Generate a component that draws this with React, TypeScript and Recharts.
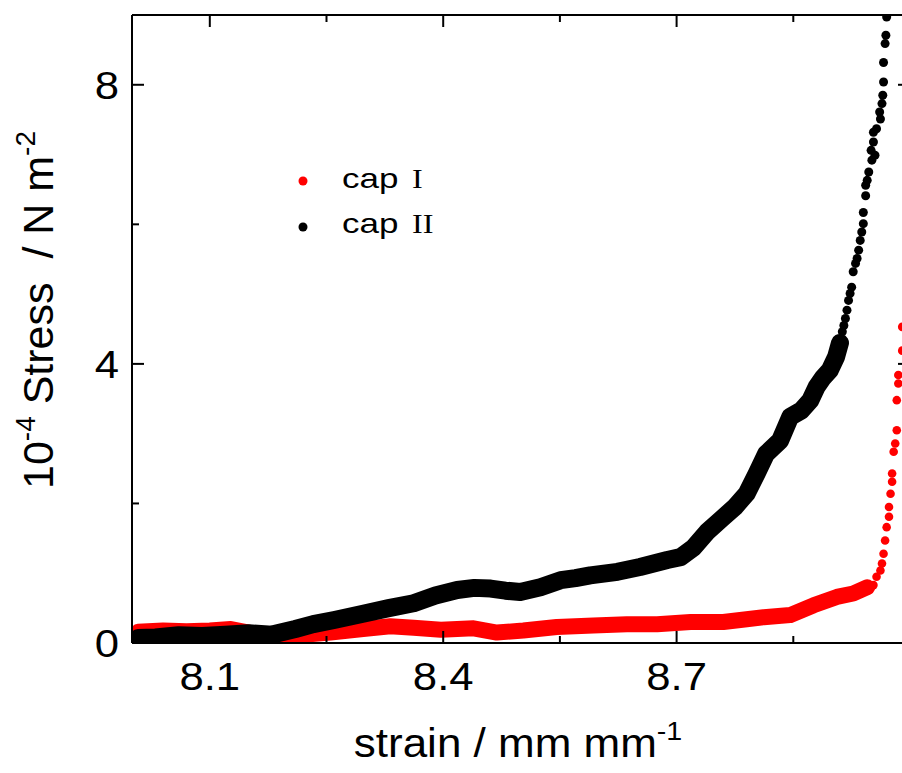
import React from "react";
import {
  ComposedChart,
  Line,
  Scatter,
  XAxis,
  YAxis,
} from "recharts";

// strain ticks (major get a label) and stress ticks
const xTicks = [8.1, 8.25, 8.4, 8.55, 8.7, 8.85];
const xMajor = [8.1, 8.4, 8.7];
const yTicks = [0, 2, 4, 6, 8];
const yMajor = [0, 4, 8];

// cap I (red) - dense band part [strain, stress]
const capIBand: [number, number][] = [
  [8.008, 0.16], [8.04, 0.18], [8.07, 0.17], [8.1, 0.18], [8.127, 0.2],
  [8.15, 0.15], [8.165, 0.06], [8.19, 0.08], [8.212, 0.11], [8.255, 0.15],
  [8.297, 0.2], [8.332, 0.24], [8.362, 0.22], [8.397, 0.19], [8.439, 0.21],
  [8.469, 0.15], [8.503, 0.18], [8.546, 0.23], [8.593, 0.25], [8.636, 0.27],
  [8.675, 0.27], [8.718, 0.3], [8.76, 0.3], [8.79, 0.34], [8.812, 0.37],
  [8.846, 0.4], [8.876, 0.54], [8.906, 0.66], [8.927, 0.71], [8.945, 0.8],
];

// cap I (red) - steep end, single points
const capITail: [number, number][] = [
  [8.947, 0.76], [8.953, 0.83], [8.957, 0.95], [8.962, 1.04], [8.964, 1.14],
  [8.966, 1.28], [8.968, 1.47], [8.970, 1.66], [8.973, 1.81], [8.973, 1.95],
  [8.975, 2.14], [8.977, 2.31], [8.977, 2.43], [8.979, 2.74], [8.981, 2.86],
  [8.983, 3.05], [8.983, 3.48], [8.985, 3.72], [8.985, 3.84], [8.99, 4.19],
  [8.99, 4.53],
];

// cap II (black) - dense band part
const capIIBand: [number, number][] = [
  [8.008, 0.07], [8.03, 0.08], [8.06, 0.11], [8.09, 0.1], [8.12, 0.12],
  [8.15, 0.14], [8.18, 0.12], [8.21, 0.2], [8.233, 0.27], [8.26, 0.33],
  [8.297, 0.42], [8.33, 0.5], [8.362, 0.57], [8.39, 0.68], [8.418, 0.76],
  [8.44, 0.79], [8.461, 0.78], [8.48, 0.75], [8.499, 0.73], [8.525, 0.8],
  [8.551, 0.9], [8.57, 0.93], [8.589, 0.97], [8.624, 1.02], [8.653, 1.09],
  [8.688, 1.19], [8.705, 1.23], [8.722, 1.37], [8.739, 1.59], [8.76, 1.8],
  [8.775, 1.95], [8.79, 2.14], [8.803, 2.43], [8.815, 2.71], [8.833, 2.9],
  [8.846, 3.24], [8.86, 3.33], [8.872, 3.48], [8.88, 3.67], [8.888, 3.8],
  [8.897, 3.91], [8.905, 4.1], [8.91, 4.3],
];

// cap II (black) - steep end
const capIITail: [number, number][] = [
  [8.908, 4.29], [8.913, 4.46], [8.915, 4.55], [8.917, 4.65], [8.919, 4.77],
  [8.921, 4.91], [8.923, 5.01], [8.925, 5.1], [8.927, 5.32], [8.93, 5.44],
  [8.932, 5.51], [8.934, 5.63], [8.936, 5.77], [8.938, 5.89], [8.94, 6.01],
  [8.94, 6.17], [8.943, 6.41], [8.943, 6.56], [8.945, 6.63], [8.947, 6.75],
  [8.951, 6.92], [8.955, 6.99], [8.95, 7.06], [8.953, 7.18], [8.953, 7.32],
  [8.957, 7.37], [8.962, 7.51], [8.961, 7.61], [8.964, 7.73], [8.965, 7.85],
  [8.966, 8.04], [8.966, 8.32], [8.968, 8.59], [8.969, 8.71], [8.97, 8.97],
];

const toPts = (arr: [number, number][]) => arr.map(([x, y]) => ({ x, y }));

const FONT = "Liberation Sans, Arial, sans-serif";
const SERIF = "Liberation Serif, Times New Roman, serif";
const RED = "#ff0000";

const BottomTick = ({ x, y, payload }: any) => {
  const major = xMajor.includes(payload.value);
  return (
    <g>
      <line x1={x} y1={y} x2={x} y2={y - (major ? 12 : 7)} stroke="#000" strokeWidth={2} />
      {major && (
        <text
          transform={`translate(${x},${y + 47}) scale(1.15,1)`}
          textAnchor="middle"
          fontSize={38}
          fontFamily={FONT}
          fill="#000"
        >
          {payload.value}
        </text>
      )}
    </g>
  );
};

const TopTick = ({ x, y, payload }: any) => {
  const major = xMajor.includes(payload.value);
  return <line x1={x} y1={y} x2={x} y2={y + (major ? 12 : 7)} stroke="#000" strokeWidth={2} />;
};

const LeftTick = ({ x, y, payload }: any) => {
  const major = yMajor.includes(payload.value);
  return (
    <g>
      <line x1={x} y1={y} x2={x + (major ? 12 : 7)} y2={y} stroke="#000" strokeWidth={2} />
      {major && (
        <text
          transform={`translate(${x - 13},${y + 14}) scale(1.15,1)`}
          textAnchor="end"
          fontSize={38}
          fontFamily={FONT}
          fill="#000"
        >
          {payload.value}
        </text>
      )}
    </g>
  );
};

const RightTick = ({ x, y, payload }: any) => {
  const major = yMajor.includes(payload.value);
  return <line x1={x} y1={y} x2={x - (major ? 12 : 7)} y2={y} stroke="#000" strokeWidth={2} />;
};

const axisLine = { stroke: "#000", strokeWidth: 2 };

export default function App() {
  return (
    <div
      style={{
        position: "absolute",
        left: 0,
        top: 0,
        width: 902,
        height: 773,
        overflow: "hidden",
        background: "#fff",
      }}
    >
      <ComposedChart
        width={920}
        height={773}
        margin={{ top: 14, right: 9, bottom: 129, left: 131 }}
      >
        <XAxis
          type="number"
          dataKey="x"
          domain={[8, 9]}
          ticks={xTicks}
          height={1}
          tickSize={0}
          tickMargin={0}
          tickLine={false}
          axisLine={axisLine}
          tick={<BottomTick />}
          allowDataOverflow
          interval={0}
        />
        <XAxis
          xAxisId="top"
          orientation="top"
          type="number"
          dataKey="x"
          domain={[8, 9]}
          ticks={xTicks}
          height={1}
          tickSize={0}
          tickMargin={0}
          tickLine={false}
          axisLine={axisLine}
          tick={<TopTick />}
          allowDataOverflow
          interval={0}
        />
        <YAxis
          type="number"
          dataKey="y"
          domain={[0, 9]}
          ticks={yTicks}
          width={1}
          tickSize={0}
          tickMargin={0}
          tickLine={false}
          axisLine={axisLine}
          tick={<LeftTick />}
          allowDataOverflow
          interval={0}
        />
        <YAxis
          yAxisId="right"
          orientation="right"
          type="number"
          dataKey="y"
          domain={[0, 9]}
          ticks={yTicks}
          width={1}
          tickSize={0}
          tickMargin={0}
          tickLine={false}
          axisLine={axisLine}
          tick={<RightTick />}
          allowDataOverflow
          interval={0}
        />
        <Line
          data={toPts(capIBand)}
          dataKey="y"
          type="linear"
          stroke={RED}
          strokeWidth={16}
          strokeLinecap="round"
          strokeLinejoin="round"
          dot={false}
          isAnimationActive={false}
        />
        <Scatter
          data={toPts(capITail)}
          dataKey="y"
          fill={RED}
          shape={(p: any) => <circle cx={p.cx} cy={p.cy} r={4.3} fill={RED} />}
          isAnimationActive={false}
        />
        <Line
          data={toPts(capIIBand)}
          dataKey="y"
          type="linear"
          stroke="#000"
          strokeWidth={18}
          strokeLinecap="round"
          strokeLinejoin="round"
          dot={false}
          isAnimationActive={false}
        />
        <Scatter
          data={toPts(capIITail)}
          dataKey="y"
          fill="#000"
          shape={(p: any) => <circle cx={p.cx} cy={p.cy} r={4.5} fill="#000" />}
          isAnimationActive={false}
        />
      </ComposedChart>

      <svg
        width={902}
        height={773}
        style={{ position: "absolute", left: 0, top: 0, pointerEvents: "none" }}
      >
        {/* y axis title */}
        <text
          transform="translate(53,310) rotate(-90)"
          textAnchor="middle"
          fontSize={43}
          fontFamily={FONT}
          fill="#000"
          style={{ whiteSpace: "pre" }}
        >
          10<tspan fontSize={28} dy={-18}>-4</tspan>
          <tspan dy={18}> Stress  / N m</tspan>
          <tspan fontSize={28} dy={-18}>-2</tspan>
        </text>
        {/* x axis title */}
        <text
          transform="translate(518,757) scale(1.1,1)"
          textAnchor="middle"
          fontSize={40}
          fontFamily={FONT}
          fill="#000"
        >
          strain / mm mm<tspan fontSize={26} dy={-17}>-1</tspan>
        </text>
        {/* legend */}
        <circle cx={303} cy={181} r={4.5} fill={RED} />
        <text transform="translate(342,188) scale(1.25,1)" fontSize={28} fontFamily={FONT} fill="#000">
          cap
        </text>
        <text transform="translate(412,188) scale(1.15,1)" fontSize={28} fontFamily={SERIF} fill="#000">
          I
        </text>
        <circle cx={303} cy={227} r={4.5} fill="#000" />
        <text transform="translate(342,233) scale(1.25,1)" fontSize={28} fontFamily={FONT} fill="#000">
          cap
        </text>
        <text transform="translate(412,233) scale(1.15,1)" fontSize={28} fontFamily={SERIF} fill="#000">
          II
        </text>
      </svg>
    </div>
  );
}
